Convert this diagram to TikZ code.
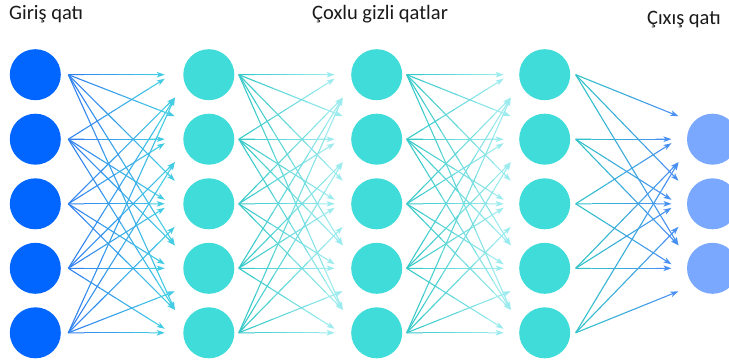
\documentclass[tikz,border=0pt]{standalone}
\usepackage{fontspec}
\setmainfont{Carlito}
\usetikzlibrary{calc,arrows.meta}
\definecolor{inblue}{HTML}{0066FF}
\definecolor{hidcyan}{HTML}{40DCDA}
\definecolor{outblue}{HTML}{7AA8FF}
\definecolor{eAa}{HTML}{2F7BF0}
\definecolor{eAb}{HTML}{45D3E3}
\definecolor{eBa}{HTML}{2EC6C6}
\definecolor{eBb}{HTML}{A6EEF2}
\definecolor{eCa}{HTML}{2EC6C6}
\definecolor{eCb}{HTML}{4A8CF6}
\definecolor{txt}{HTML}{1A1A1A}
% #1 source node, #2 target node, #3 start offset, #4/#5 colours,
% #6 source row, #7 target row, #8 left x offset of the tip
\newcommand\nnedge[8]{%
  \pgfmathtruncatemacro\dd{abs(#6-#7)}%
  \pgfmathsetmacro\sg{sign(#6-#7)}%
  \pgfmathtruncatemacro\near{(\dd==1 && #6>1 && #6<5) ? 1 : 0}%
  \pgfmathsetmacro\dx{\dd==0 ? #8 : (\near==1 ? #8 : -34)}%
  \pgfmathsetmacro\dy{\dd==0 ? 0 : (\near==1 ? 4*\sg : 23*\sg)}%
  \coordinate (s) at ($(#1.center)+(#3,0)$);
  \coordinate (e) at ($(#2.center)+(\dx,\dy)$);
  \foreach \k in {0,...,5} {
    \pgfmathsetmacro\ta{\k/6}
    \pgfmathsetmacro\tb{(\k+1)/6}
    \pgfmathtruncatemacro\pc{100-100*(\k+0.5)/6}
    \ifnum\k=5
      \draw[edgeline,#4!\pc!#5,-{Stealth[length=8pt,width=5.5pt,inset=2pt]}] ($(s)!\ta!(e)$) -- (e);
    \else
      \draw[edgeline,#4!\pc!#5] ($(s)!\ta!(e)$) -- ($(s)!\tb!(e)$);
    \fi
  }%
}
\begin{document}
\begin{tikzpicture}[x=1pt,y=-1pt,
  neuron/.style={circle,minimum size=51pt,inner sep=0pt,draw=none},
  edgeline/.style={line width=1.1pt},
  title/.style={inner sep=0pt,text=txt,font=\fontsize{20.5}{24}\selectfont}]
\useasboundingbox (0,0) rectangle (729,361);
\fill[white] (0,0) rectangle (729,361);
\foreach \i/\y in {1/74.7,2/139.2,3/203.8,4/268.3,5/332.8} {
  \node[neuron,fill=inblue] (A\i) at (35.3,\y) {};
  \node[neuron,fill=hidcyan] (B\i) at (208.8,\y) {};
  \node[neuron,fill=hidcyan] (C\i) at (376.7,\y) {};
  \node[neuron,fill=hidcyan] (D\i) at (544.7,\y) {};
}
\foreach \i/\y in {1/139.2,2/203.8,3/268.3} {
  \node[neuron,fill=outblue] (E\i) at (712.5,\y) {};
}
\foreach \i in {1,...,5} {
  \foreach \j in {1,...,5} {
    \nnedge{A\i}{B\j}{33}{eAa}{eAb}{\i}{\j}{-44}
    \nnedge{B\i}{C\j}{30}{eBa}{eBb}{\i}{\j}{-42}
    \nnedge{C\i}{D\j}{30}{eBa}{eBb}{\i}{\j}{-41}
  }
  \foreach \j in {1,2,3} {
    \pgfmathtruncatemacro\rr{\j+1}
    \nnedge{D\i}{E\j}{31}{eCa}{eCb}{\i}{\rr}{-41}
  }
}
\node[title,anchor=base west] (t1) at (9,20) {Giriş qatı};
\node[title,anchor=base west] (t2) at (312,20) {Çoxlu gizli qatlar};
\node[title,anchor=base east] (t3) at (721,25) {Çıxış qatı};
\end{tikzpicture}
\end{document}
